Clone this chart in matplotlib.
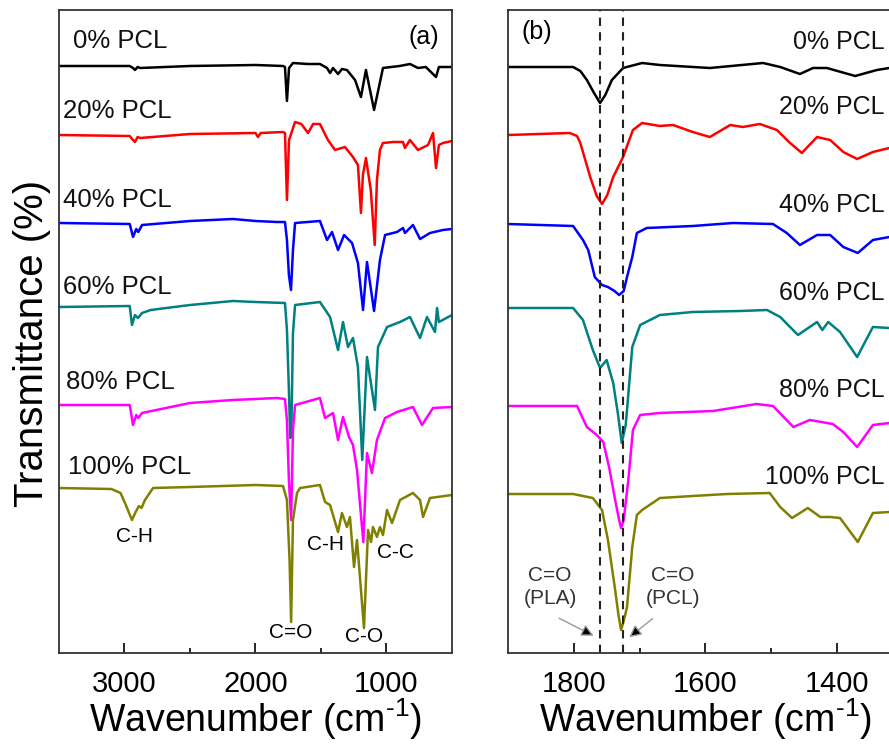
import matplotlib
matplotlib.use("Agg")
import matplotlib.pyplot as plt
from matplotlib.ticker import FixedLocator

plt.rcParams['font.family'] = ['Liberation Sans', 'DejaVu Sans']
plt.rcParams['mathtext.fontset'] = 'custom'
plt.rcParams['mathtext.rm'] = 'Liberation Sans'

# ---- panel (a): full spectra (wavenumber, offset transmittance) ----
a_wn_0 = [3500, 2960, 2935, 2920, 2900, 2880, 2500, 2000, 1790, 1775, 1760, 1744, 1714, 1600, 1508, 1454, 1431,
          1408, 1370, 1340, 1302, 1240, 1195, 1157, 1095, 1027, 900, 820, 760, 700, 622, 600, 500]
a_t_0 = [587, 587, 585, 583, 586, 585, 587, 588, 587, 586, 552, 585, 590, 589, 589, 585, 580,
         585, 579, 584, 583, 573, 556, 583, 543, 585, 587, 589, 585, 586, 576, 586, 586]

a_wn_20 = [3500, 2960, 2935, 2920, 2900, 2880, 2500, 2000, 1981, 1960, 1790, 1775, 1760, 1744, 1698, 1650, 1599,
           1560, 1508, 1447, 1393, 1317, 1256, 1218, 1195, 1180, 1157, 1120, 1090, 1073, 1050, 1027, 950, 874,
           859, 821, 760, 683, 645, 622, 600, 569, 500]
a_t_20 = [518, 517, 513, 511, 516, 515, 519, 520, 516, 520, 521, 520, 453, 513, 531, 529, 520,
          529, 529, 513, 503, 506, 496, 488, 440, 478, 495, 463, 408, 473, 503, 510, 511, 511,
          505, 513, 503, 508, 520, 485, 508, 510, 512]

a_wn_40 = [3500, 2960, 2935, 2910, 2895, 2866, 2500, 2172, 2000, 1836, 1775, 1760, 1745, 1729, 1714, 1698, 1508,
           1454, 1416, 1370, 1324, 1263, 1218, 1179, 1149, 1095, 1050, 1011, 920, 874, 859, 798, 744, 668,
           569, 500]
a_t_40 = [430, 429, 416, 424, 421, 428, 432, 434, 432, 431, 431, 413, 378, 363, 403, 430, 432,
          413, 421, 403, 418, 410, 390, 343, 391, 342, 393, 418, 421, 425, 420, 428, 414, 420,
          423, 424]

a_wn_60 = [3500, 2960, 2943, 2920, 2897, 2866, 2800, 2500, 2172, 2000, 1775, 1760, 1745, 1735, 1725, 1714, 1698,
           1508, 1431, 1370, 1332, 1294, 1256, 1218, 1185, 1149, 1088, 1065, 996, 897, 821, 744, 691, 630,
           614, 600, 500]
a_t_60 = [346, 347, 328, 338, 335, 340, 343, 348, 352, 351, 350, 323, 263, 215, 233, 320, 348,
          351, 336, 303, 331, 306, 315, 286, 193, 296, 243, 306, 326, 331, 336, 315, 336, 321,
          345, 331, 338]

a_wn_80 = [3500, 2960, 2935, 2910, 2895, 2866, 2500, 2172, 2000, 1836, 1775, 1760, 1745, 1728, 1714, 1698, 1508,
           1469, 1408, 1370, 1332, 1286, 1256, 1225, 1177, 1149, 1111, 1073, 1011, 920, 798, 729, 645, 500]
a_t_80 = [248, 248, 228, 238, 235, 240, 250, 253, 254, 255, 254, 233, 173, 133, 223, 248, 255,
          235, 240, 213, 236, 216, 208, 183, 111, 200, 180, 213, 235, 241, 246, 228, 245, 246]

a_wn_100 = [3500, 3100, 3030, 2990, 2943, 2915, 2890, 2870, 2844, 2782, 2500, 2000, 1790, 1760, 1740, 1728, 1714,
            1683, 1660, 1508, 1469, 1431, 1370, 1340, 1302, 1279, 1248, 1225, 1172, 1141, 1118, 1103, 1073,
            1050, 1027, 996, 958, 897, 798, 744, 721, 668, 500]
a_t_100 = [165, 164, 160, 148, 133, 141, 147, 145, 153, 165, 166, 168, 167, 153, 93, 31, 133,
           160, 165, 168, 151, 148, 121, 140, 126, 136, 86, 113, 25, 123, 111, 126, 116,
           126, 118, 143, 130, 153, 160, 153, 136, 155, 158]

# ---- panel (b): carbonyl region ----
b_wn_0 = [1900, 1801, 1790, 1780, 1770, 1760, 1752, 1742, 1725, 1696, 1669, 1593, 1512, 1486, 1456, 1436, 1415,
          1372, 1339, 1320, 1300]
b_t_0 = [586, 586, 582, 573, 561, 550, 558, 573, 585, 590, 588, 585, 590, 586, 579, 585, 585,
         577, 583, 585, 585]

b_wn_20 = [1900, 1806, 1795, 1790, 1775, 1765, 1757, 1749, 1740, 1725, 1710, 1696, 1669, 1649, 1619, 1593, 1562,
           1543, 1517, 1491, 1471, 1453, 1430, 1410, 1390, 1369, 1345, 1320, 1300]
b_t_20 = [518, 520, 517, 510, 476, 457, 449, 458, 476, 496, 523, 530, 527, 528, 521, 516, 528,
          526, 529, 523, 510, 500, 516, 513, 501, 494, 501, 505, 506]

b_wn_40 = [1900, 1801, 1786, 1778, 1768, 1757, 1748, 1738, 1731, 1724, 1719, 1711, 1704, 1689, 1619, 1558, 1497,
           1476, 1456, 1430, 1410, 1390, 1368, 1345, 1320, 1300]
b_t_40 = [429, 427, 413, 403, 376, 368, 366, 362, 358, 362, 376, 396, 420, 425, 427, 430, 429,
          420, 408, 418, 418, 406, 400, 413, 416, 416]

b_wn_60 = [1900, 1801, 1786, 1771, 1760, 1750, 1740, 1733, 1727, 1721, 1719, 1711, 1699, 1669, 1619, 1547, 1506,
           1486, 1459, 1430, 1422, 1413, 1395, 1369, 1345, 1320, 1300]
b_t_60 = [345, 345, 333, 303, 285, 293, 270, 240, 210, 228, 243, 306, 328, 338, 341, 342, 343,
          336, 318, 331, 323, 331, 321, 296, 326, 325, 325]

b_wn_80 = [1900, 1795, 1780, 1765, 1755, 1746, 1737, 1731, 1728, 1724, 1717, 1710, 1699, 1669, 1588, 1522, 1497,
           1466, 1441, 1406, 1390, 1369, 1345, 1320, 1300]
b_t_80 = [247, 247, 226, 218, 211, 185, 153, 133, 125, 133, 173, 223, 238, 240, 242, 249, 247,
          226, 233, 229, 221, 206, 228, 230, 230]

b_wn_100 = [1900, 1801, 1771, 1757, 1748, 1737, 1732, 1728, 1724, 1719, 1711, 1704, 1696, 1669, 1619, 1567, 1502,
            1486, 1468, 1444, 1425, 1410, 1395, 1368, 1345, 1320, 1300]
b_t_100 = [159, 159, 155, 143, 113, 63, 38, 23, 32, 46, 106, 138, 143, 155, 157, 159, 160,
           146, 135, 145, 136, 136, 135, 111, 140, 141, 141]

labels = ['0% PCL', '20% PCL', '40% PCL', '60% PCL', '80% PCL', '100% PCL']
colors = ['black', '#ff0000', '#0000ff', '#008080', '#ff00ff', '#808000']
label_y_a = [612, 542, 453, 366, 271, 186]
label_x_a = [3393, 3469, 3469, 3469, 3447, 3431]
label_y_b = [611, 546, 448, 360, 263, 176]
pla_line, pcl_line = 1760, 1725

spectra_a = [(a_wn_0, a_t_0), (a_wn_20, a_t_20), (a_wn_40, a_t_40),
             (a_wn_60, a_t_60), (a_wn_80, a_t_80), (a_wn_100, a_t_100)]
spectra_b = [(b_wn_0, b_t_0), (b_wn_20, b_t_20), (b_wn_40, b_t_40),
             (b_wn_60, b_t_60), (b_wn_80, b_t_80), (b_wn_100, b_t_100)]

W, H = 889, 744
fig = plt.figure(figsize=(W / 100, H / 100), dpi=100)
ax1 = fig.add_axes([59 / W, 1 - 653 / H, 393 / W, 643 / H])
ax2 = fig.add_axes([508 / W, 1 - 653 / H, 394.5 / W, 643 / H])


def style(ax, xlim, major, minor):
	ax.set_xlim(*xlim)
	ax.set_ylim(0, 643)
	ax.xaxis.set_major_locator(FixedLocator(major))
	ax.xaxis.set_minor_locator(FixedLocator(minor))
	ax.set_yticks([])
	ax.tick_params(axis='x', which='major', direction='in', length=7, width=1.2,
				   labelsize=21, pad=12, top=False)
	ax.tick_params(axis='x', which='minor', direction='in', length=3.5, width=1.2, top=False)
	for sp in ax.spines.values():
		sp.set_linewidth(1.3)
		sp.set_color('#333333')
	ax.set_xlabel(r'Wavenumber (cm$^{\text{-1}}$)', fontsize=27, labelpad=-1)


for (wn, t), c, lab, lx, ly in zip(spectra_a, colors, labels, label_x_a, label_y_a):
	ax1.plot(wn, t, color=c, lw=1.8)
	ax1.text(lx, ly, lab, fontsize=18.5, ha='left', va='center', color='#111111')
style(ax1, (3500, 500), [3000, 2000, 1000], [2500, 1500])
ax1.text(714, 616, '(a)', fontsize=18, ha='center', va='center')

ax1.text(2920, 116, 'C-H', fontsize=15, ha='center', va='center')
ax1.text(1730, 20, 'C=O', fontsize=15, ha='center', va='center')
ax1.text(1465, 108, 'C-H', fontsize=15, ha='center', va='center')
ax1.text(1175, 16, 'C-O', fontsize=15, ha='center', va='center')
ax1.text(935, 101, 'C-C', fontsize=15, ha='center', va='center')

for (wn, t), c, lab, ly in zip(spectra_b, colors, labels, label_y_b):
	ax2.plot(wn, t, color=c, lw=1.8)
	ax2.text(1327, ly, lab, fontsize=18, ha='right', va='center', color='#111111')
style(ax2, (1900, 1300), [1800, 1600, 1400], [1700, 1500])
ax2.axvline(pla_line, color='#222222', lw=1.5, ls=(0, (4, 3)))
ax2.axvline(pcl_line, color='#222222', lw=1.5, ls=(0, (4, 3)))
ax2.text(1856, 621, '(b)', fontsize=18, ha='center', va='center')

ax2.text(1836, 66, 'C=O\n(PLA)', fontsize=15, ha='center', va='center', color='#333333', linespacing=1.3)
ax2.text(1649, 66, 'C=O\n(PCL)', fontsize=15, ha='center', va='center', color='#333333', linespacing=1.3)
ax2.annotate('', xy=(1766, 16), xytext=(1826, 36),
			 arrowprops=dict(arrowstyle='-|>', lw=1, mutation_scale=18, fc='black', ec='#999999'))
ax2.annotate('', xy=(1719, 14), xytext=(1677, 36),
			 arrowprops=dict(arrowstyle='-|>', lw=1, mutation_scale=18, fc='black', ec='#999999'))

ax1.set_ylabel('Transmittance (%)', fontsize=29)
ax1.yaxis.set_label_coords(-0.02, 0.482)

fig.savefig('out.png', dpi=100)
